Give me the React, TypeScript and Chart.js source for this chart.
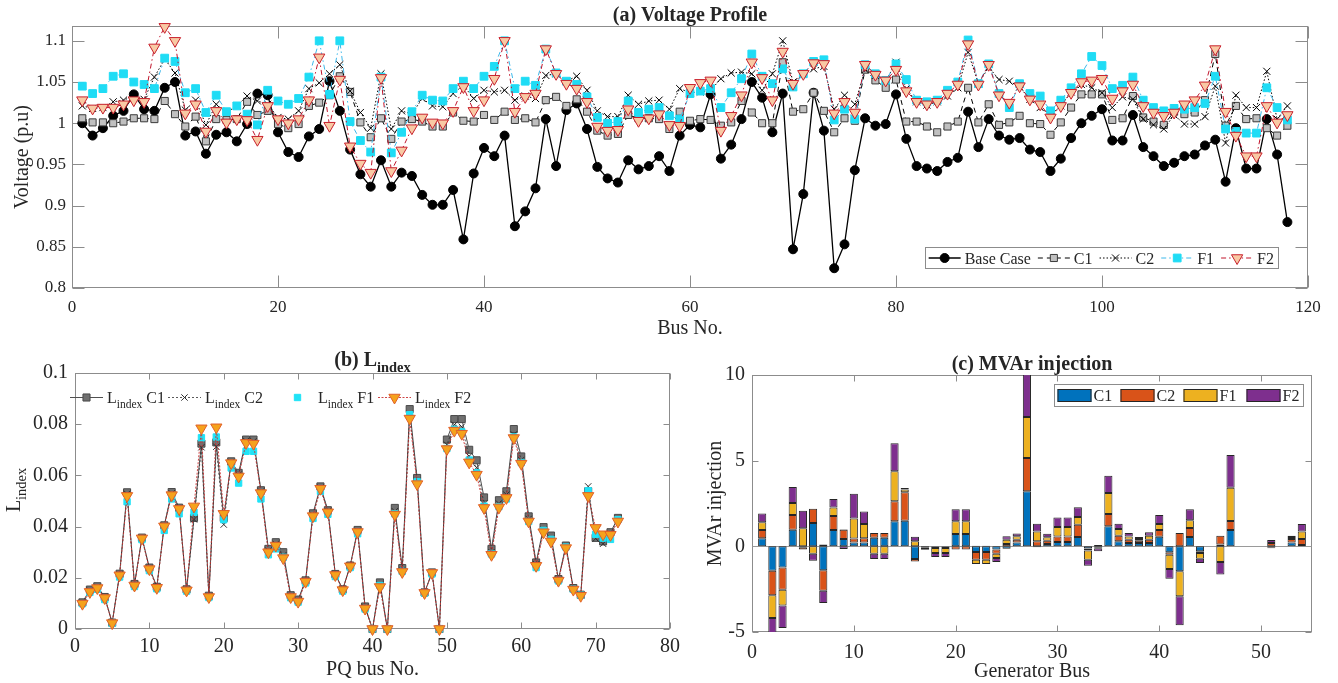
import React, { useEffect, useRef } from 'react';
import { Chart, registerables } from 'chart.js';

Chart.register(...registerables);

// ---------------- (a) Voltage profile ----------------
const busNumbers: number[] = Array.from({ length: 118 }, (_, i) => i + 1);

const voltageBase = [
  1.000, 0.985, 0.994, 1.009, 1.015, 1.035, 1.017, 1.015, 1.043, 1.050,
  0.985, 0.990, 0.963, 0.986, 0.989, 0.978, 0.999, 1.036, 1.034, 0.989,
  0.965, 0.959, 0.984, 0.993, 1.051, 1.015, 0.968, 0.938, 0.923, 0.955,
  0.923, 0.940, 0.936, 0.913, 0.901, 0.901, 0.919, 0.859, 0.939, 0.970,
  0.960, 0.985, 0.875, 0.893, 0.921, 1.005, 0.948, 1.016, 1.024, 0.993,
  0.947, 0.933, 0.928, 0.955, 0.944, 0.948, 0.960, 0.942, 0.985, 0.998,
  0.995, 1.035, 0.957, 0.974, 1.005, 1.050, 1.031, 0.989, 1.036, 0.847,
  0.914, 1.037, 0.991, 0.824, 0.853, 0.943, 1.006, 0.997, 0.999, 1.035,
  0.981, 0.948, 0.945, 0.942, 0.953, 0.958, 1.014, 0.971, 1.005, 0.985,
  0.980, 0.982, 0.968, 0.965, 0.942, 0.957, 0.982, 1.000, 1.009, 1.017,
  0.979, 0.979, 1.010, 0.971, 0.960, 0.948, 0.952, 0.960, 0.962, 0.973,
  0.980, 0.929, 0.994, 0.945, 0.945, 1.005, 0.962, 0.880,
];

const voltageC1 = [
  1.006, 1.001, 1.001, 1.000, 1.002, 1.006, 1.006, 1.005, 1.027, 1.011,
  0.996, 1.008, 0.978, 1.005, 1.004, 1.005, 1.026, 1.010, 1.015, 0.999,
  0.994, 0.999, 1.021, 1.025, 1.034, 1.057, 1.038, 1.001, 0.983, 1.006,
  0.981, 1.002, 1.005, 1.002, 0.996, 0.996, 1.013, 1.003, 1.002, 1.010,
  1.004, 1.014, 1.004, 1.006, 1.001, 1.028, 1.032, 1.021, 1.029, 1.014,
  0.991, 0.985, 0.987, 1.010, 1.006, 1.006, 1.005, 0.993, 1.014, 1.003,
  1.005, 1.004, 0.997, 1.001, 1.027, 1.013, 1.000, 1.000, 1.074, 1.014,
  1.017, 1.037, 1.015, 0.989, 1.006, 1.003, 1.065, 1.052, 1.043, 1.053,
  1.002, 1.002, 0.996, 0.989, 0.996, 1.002, 1.043, 1.001, 1.023, 0.998,
  1.001, 1.009, 1.000, 0.999, 0.986, 1.001, 1.019, 1.035, 1.035, 1.035,
  1.004, 1.006, 1.033, 1.007, 1.002, 0.998, 1.014, 1.011, 1.013, 1.028,
  1.084, 0.997, 1.021, 1.005, 1.006, 0.994, 0.985, 0.997,
];

const voltageC2 = [
  1.021, 1.018, 1.019, 1.026, 1.028, 1.033, 1.029, 1.056, 1.078, 1.061,
  1.016, 1.028, 0.998, 1.023, 1.013, 1.021, 1.033, 1.027, 1.023, 1.007,
  1.005, 1.015, 1.042, 1.049, 1.060, 1.071, 1.039, 1.013, 0.994, 1.060,
  0.993, 1.015, 1.011, 1.030, 1.021, 1.020, 1.036, 1.046, 1.030, 1.040,
  1.038, 1.040, 1.028, 1.033, 1.030, 1.058, 1.060, 1.051, 1.057, 1.040,
  1.015, 1.008, 1.008, 1.034, 1.023, 1.027, 1.028, 1.017, 1.042, 1.037,
  1.038, 1.040, 1.054, 1.061, 1.062, 1.060, 1.040, 1.060, 1.100, 1.050,
  1.060, 1.066, 1.069, 1.017, 1.034, 1.023, 1.065, 1.058, 1.051, 1.074,
  1.042, 1.026, 1.022, 1.026, 1.033, 1.043, 1.086, 1.048, 1.068, 1.053,
  1.051, 1.044, 1.029, 1.019, 1.010, 1.021, 1.038, 1.047, 1.043, 1.037,
  1.019, 1.032, 1.029, 1.005, 0.998, 0.993, 1.010, 0.999, 0.999, 1.008,
  1.045, 0.976, 1.034, 1.019, 1.019, 1.063, 1.005, 1.021,
];

const voltageF1 = [
  1.045, 1.036, 1.042, 1.057, 1.060, 1.050, 1.047, 1.042, 1.079, 1.075,
  1.037, 1.042, 1.013, 1.034, 1.014, 1.021, 1.011, 0.998, 1.040, 1.027,
  1.023, 1.030, 1.056, 1.100, 1.035, 1.100, 1.002, 0.979, 0.965, 1.056,
  0.964, 0.989, 1.014, 1.034, 1.028, 1.027, 1.042, 1.051, 1.042, 1.057,
  1.069, 1.100, 1.042, 1.051, 1.046, 1.090, 1.061, 1.051, 1.047, 1.032,
  1.007, 1.000, 1.002, 1.027, 1.013, 1.017, 1.019, 1.009, 1.005, 1.036,
  1.039, 1.042, 1.019, 1.037, 1.054, 1.084, 1.057, 1.048, 1.066, 1.044,
  1.060, 1.075, 1.077, 1.004, 1.017, 1.005, 1.071, 1.060, 1.052, 1.072,
  1.053, 1.028, 1.026, 1.028, 1.040, 1.050, 1.101, 1.048, 1.072, 1.036,
  1.019, 1.048, 1.036, 1.033, 1.015, 1.028, 1.043, 1.060, 1.081, 1.070,
  1.042, 1.046, 1.056, 1.028, 1.019, 1.015, 1.018, 1.017, 1.019, 1.024,
  1.057, 0.993, 0.990, 0.988, 0.988, 1.043, 1.019, 1.004,
];

const voltageF2 = [
  1.028, 1.018, 1.019, 1.019, 1.023, 1.028, 1.026, 1.092, 1.117, 1.100,
  1.012, 1.023, 0.990, 1.015, 1.001, 1.005, 1.004, 0.980, 1.021, 1.005,
  1.000, 1.005, 1.028, 1.080, 0.997, 1.053, 0.972, 0.951, 0.940, 1.055,
  0.942, 0.967, 0.994, 1.007, 1.001, 1.000, 1.015, 1.044, 1.015, 1.028,
  1.054, 1.100, 1.014, 1.032, 1.036, 1.090, 1.060, 1.048, 1.042, 1.026,
  0.996, 0.991, 0.992, 1.017, 1.003, 1.006, 1.011, 0.998, 0.997, 1.043,
  1.049, 1.052, 0.991, 1.009, 1.034, 1.074, 1.055, 1.028, 1.087, 1.048,
  1.060, 1.073, 1.072, 1.012, 1.026, 1.013, 1.071, 1.059, 1.052, 1.065,
  1.039, 1.026, 1.023, 1.026, 1.036, 1.047, 1.096, 1.047, 1.071, 1.034,
  1.025, 1.045, 1.029, 1.023, 1.007, 1.021, 1.037, 1.050, 1.052, 1.054,
  1.030, 1.039, 1.047, 1.021, 1.013, 1.009, 1.013, 1.023, 1.028, 1.046,
  1.090, 1.014, 0.985, 0.960, 0.960, 1.021, 1.001, 1.010,
];

// ---------------- (b) L-index of the PQ buses ----------------
const pqBusNumbers: number[] = Array.from({ length: 73 }, (_, i) => i + 1);

const lIndexC1 = [
  0.0104, 0.0154, 0.0167, 0.0125, 0.0025, 0.0216, 0.0534, 0.0176, 0.0357, 0.0240,
  0.0165, 0.0405, 0.0535, 0.0474, 0.0155, 0.0434, 0.0724, 0.0130, 0.0729, 0.0434,
  0.0655, 0.0610, 0.0740, 0.0740, 0.0542, 0.0313, 0.0339, 0.0300, 0.0132, 0.0115,
  0.0190, 0.0452, 0.0557, 0.0464, 0.0215, 0.0155, 0.0248, 0.0387, 0.0088, 0.0000,
  0.0182, 0.0000, 0.0473, 0.0238, 0.0859, 0.0590, 0.0143, 0.0221, 0.0000, 0.0740,
  0.0820, 0.0820, 0.0700, 0.0659, 0.0514, 0.0313, 0.0503, 0.0538, 0.0781, 0.0674,
  0.0440, 0.0260, 0.0398, 0.0365, 0.0195, 0.0326, 0.0160, 0.0134, 0.0538, 0.0356,
  0.0342, 0.0378, 0.0434,
];

const lIndexC2 = [
  0.0102, 0.0150, 0.0164, 0.0123, 0.0024, 0.0213, 0.0528, 0.0173, 0.0355, 0.0237,
  0.0163, 0.0403, 0.0530, 0.0471, 0.0153, 0.0428, 0.0710, 0.0128, 0.0712, 0.0408,
  0.0652, 0.0603, 0.0735, 0.0733, 0.0537, 0.0306, 0.0332, 0.0288, 0.0128, 0.0111,
  0.0187, 0.0446, 0.0552, 0.0460, 0.0213, 0.0154, 0.0246, 0.0383, 0.0084, 0.0000,
  0.0173, 0.0000, 0.0460, 0.0230, 0.0840, 0.0578, 0.0142, 0.0220, 0.0000, 0.0720,
  0.0798, 0.0790, 0.0675, 0.0630, 0.0490, 0.0300, 0.0490, 0.0525, 0.0760, 0.0660,
  0.0430, 0.0253, 0.0388, 0.0353, 0.0192, 0.0321, 0.0157, 0.0132, 0.0557, 0.0353,
  0.0333, 0.0372, 0.0430,
];

const lIndexF1 = [
  0.0099, 0.0143, 0.0155, 0.0115, 0.0022, 0.0203, 0.0497, 0.0166, 0.0349, 0.0228,
  0.0157, 0.0385, 0.0508, 0.0450, 0.0148, 0.0456, 0.0747, 0.0123, 0.0750, 0.0427,
  0.0629, 0.0570, 0.0694, 0.0694, 0.0508, 0.0290, 0.0313, 0.0280, 0.0122, 0.0105,
  0.0180, 0.0432, 0.0538, 0.0448, 0.0205, 0.0148, 0.0240, 0.0372, 0.0078, 0.0000,
  0.0170, 0.0000, 0.0450, 0.0225, 0.0837, 0.0575, 0.0140, 0.0215, 0.0000, 0.0705,
  0.0780, 0.0770, 0.0660, 0.0610, 0.0480, 0.0293, 0.0478, 0.0508, 0.0750, 0.0650,
  0.0420, 0.0240, 0.0385, 0.0350, 0.0188, 0.0320, 0.0155, 0.0132, 0.0540, 0.0370,
  0.0355, 0.0350, 0.0427,
];

const lIndexF2 = [
  0.0099, 0.0145, 0.0160, 0.0121, 0.0023, 0.0210, 0.0520, 0.0170, 0.0354, 0.0234,
  0.0161, 0.0401, 0.0523, 0.0469, 0.0151, 0.0479, 0.0784, 0.0125, 0.0788, 0.0450,
  0.0648, 0.0596, 0.0727, 0.0724, 0.0531, 0.0300, 0.0326, 0.0277, 0.0125, 0.0107,
  0.0185, 0.0441, 0.0548, 0.0456, 0.0211, 0.0152, 0.0245, 0.0379, 0.0080, 0.0000,
  0.0164, 0.0000, 0.0447, 0.0223, 0.0822, 0.0566, 0.0141, 0.0219, 0.0000, 0.0703,
  0.0775, 0.0763, 0.0651, 0.0603, 0.0473, 0.0290, 0.0475, 0.0512, 0.0746, 0.0646,
  0.0420, 0.0247, 0.0378, 0.0342, 0.0189, 0.0316, 0.0154, 0.0130, 0.0520, 0.0395,
  0.0370, 0.0368, 0.0420,
];

// ---------------- (c) MVAr injection per generator bus ----------------
const generatorBus: number[] = Array.from({ length: 54 }, (_, i) => i + 1);

const mvarC1 = [
  0.47, -1.42, -1.23, 0.97, -0.06, 1.36, -1.40, 0.95, 0.43, 0.23,
  0.23, 0.50, 0.50, 1.46, 1.50, -0.74, -0.05, -0.03, -0.03, 0.72,
  0.72, -0.33, -0.33, -0.19, -0.14, 0.23, 3.21, -0.05, 0.14, 0.25,
  0.25, 0.54, -0.12, -0.06, 1.17, 0.29, 0.19, 0.19, 0.19, 0.56,
  -0.35, -1.46, 0.54, -0.29, 0, 0.10, 0.95, 0, 0, 0,
  -0.08, 0, 0.23, 0.08,
];
const mvarC2 = [
  0.48, -1.44, -1.30, 0.86, -0.12, 0.84, -1.19, 0.82, 0.54, 0.22,
  0.24, 0.28, 0.28, 1.17, 1.65, -0.15, -0.05, -0.06, -0.06, -0.19,
  -0.19, -0.45, -0.45, -0.24, 0.14, 0.16, 1.95, 0.29, 0.19, 0.33,
  0.33, 0.72, -0.13, -0.05, 0.72, 0.33, 0.20, 0.14, 0.20, 0.39,
  -0.14, 0.78, 0.53, -0.10, 0, 0.52, 0.53, 0, 0, 0,
  0.20, 0, 0.20, 0.35,
];
const mvarF1 = [
  0.45, -1.32, -0.93, 0.70, 1.05, -0.43, 0.10, 0.49, 0.02, 1.18,
  0.83, -0.43, -0.43, 1.75, 0.16, 0.29, -0.05, -0.30, -0.30, 0.74,
  0.74, -0.25, -0.25, -0.25, 0.25, 0.20, 2.39, 0.58, 0.20, 0.55,
  0.55, 0.45, -0.53, 0.08, 1.22, 0.39, 0.19, 0.10, 0.23, 0.35,
  -0.83, -1.46, 0.45, -0.33, 0, -0.91, 1.94, 0, 0, 0,
  -0.03, 0, 0.11, 0.44,
];
const mvarF2 = [
  0.51, -0.90, -1.31, 0.93, 1.03, -0.41, -0.72, 0.50, -0.15, 1.44,
  0.74, -0.31, -0.31, 1.63, 0.09, 0.27, -0.05, -0.23, -0.23, 0.70,
  0.70, 0.03, 0.03, -0.23, 0.20, 0.16, 2.50, 0.45, 0.21, 0.56,
  0.56, 0.57, -0.35, -0.18, 1.01, 0.31, 0.20, 0.12, 0.20, 0.53,
  -0.57, -1.69, 0.64, -0.25, 0, -0.74, 1.91, 0, 0, 0,
  0.17, 0, 0.08, 0.43,
];

// ---------------- styling ----------------
const SERIF = '"Liberation Serif", "Times New Roman", Times, serif';
const INK = '#262626';
const FRAME = '#8c8c8c';
const SUB_SCALE = 0.72;
const SUB_DROP = 0.3;

type MarkerKind = 'circle' | 'rect' | 'crossRot' | 'triangleDown';
interface SeriesStyle {
  color: string;
  width: number;
  dash: number[];
  showLine: boolean;
  marker: MarkerKind;
  radius: number;
  fill: string;
  edge: string;
  edgeWidth: number;
}
type Run = { t: string; sub?: boolean };

const voltageStyles: SeriesStyle[] = [
  { color: '#000000', width: 1.3, dash: [], showLine: true, marker: 'circle', radius: 4.5, fill: '#000000', edge: '#000000', edgeWidth: 1 },
  { color: '#000000', width: 1, dash: [5, 4], showLine: true, marker: 'rect', radius: 5, fill: '#c0c0c0', edge: '#3a3a3a', edgeWidth: 1 },
  { color: '#000000', width: 1, dash: [1.5, 2], showLine: true, marker: 'crossRot', radius: 5, fill: '#000000', edge: '#000000', edgeWidth: 1 },
  { color: '#3db8ea', width: 1, dash: [5, 3, 1.5, 3], showLine: true, marker: 'rect', radius: 5.5, fill: '#1fdcf5', edge: '#1fdcf5', edgeWidth: 1 },
  { color: '#c0142b', width: 1, dash: [5, 3, 1.5, 3], showLine: true, marker: 'triangleDown', radius: 6.5, fill: '#f8c9a4', edge: '#c8202c', edgeWidth: 1 },
];
const voltageNames = ['Base Case', 'C1', 'C2', 'F1', 'F2'];

const lIndexStyles: SeriesStyle[] = [
  { color: '#505050', width: 1, dash: [], showLine: true, marker: 'rect', radius: 5, fill: '#707070', edge: '#4a4a4a', edgeWidth: 1 },
  { color: '#303030', width: 0.8, dash: [2, 2], showLine: true, marker: 'crossRot', radius: 4.5, fill: '#303030', edge: '#303030', edgeWidth: 1 },
  { color: '#1fe3f7', width: 1, dash: [], showLine: false, marker: 'rect', radius: 4.5, fill: '#1fe3f7', edge: '#1fe3f7', edgeWidth: 1 },
  { color: '#c83030', width: 0.9, dash: [2, 1.5], showLine: true, marker: 'triangleDown', radius: 6.5, fill: '#f5a21c', edge: '#e0602a', edgeWidth: 1 },
];
const lIndexNames = ['C1', 'C2', 'F1', 'F2'];

const mvarColors = ['#0072BD', '#D95319', '#EDB120', '#7E2F8E'];
const mvarNames = ['C1', 'C2', 'F1', 'F2'];

// ---------------- drawing helpers ----------------
function fontOf(size: number, bold: boolean) {
  return `${bold ? 'bold ' : ''}${size}px ${SERIF}`;
}

function drawRuns(ctx: CanvasRenderingContext2D, runs: Run[], x: number, y: number, size: number, bold: boolean, align: 'left' | 'center') {
  const subSize = size * SUB_SCALE;
  let w = 0;
  for (const r of runs) {
    ctx.font = fontOf(r.sub ? subSize : size, bold);
    w += ctx.measureText(r.t).width;
  }
  let cx = align === 'center' ? x - w / 2 : x;
  ctx.fillStyle = INK;
  ctx.textAlign = 'left';
  ctx.textBaseline = 'alphabetic';
  for (const r of runs) {
    ctx.font = fontOf(r.sub ? subSize : size, bold);
    ctx.fillText(r.t, cx, y + (r.sub ? size * SUB_DROP : 0));
    cx += ctx.measureText(r.t).width;
  }
  return w;
}

function drawRunsVertical(ctx: CanvasRenderingContext2D, runs: Run[], baselineX: number, centerY: number, size: number) {
  ctx.save();
  ctx.translate(baselineX, centerY);
  ctx.rotate(-Math.PI / 2);
  drawRuns(ctx, runs, 0, 0, size, false, 'center');
  ctx.restore();
}

function drawMarker(ctx: CanvasRenderingContext2D, st: SeriesStyle, x: number, y: number) {
  const r = st.radius;
  ctx.save();
  ctx.setLineDash([]);
  ctx.fillStyle = st.fill;
  ctx.strokeStyle = st.edge;
  ctx.lineWidth = st.edgeWidth;
  ctx.beginPath();
  if (st.marker === 'circle') {
    ctx.arc(x, y, r, 0, Math.PI * 2);
    ctx.fill();
    ctx.stroke();
  } else if (st.marker === 'rect') {
    const s = r * Math.SQRT1_2;
    ctx.rect(x - s, y - s, 2 * s, 2 * s);
    ctx.fill();
    ctx.stroke();
  } else if (st.marker === 'crossRot') {
    const d = r * Math.SQRT1_2;
    ctx.moveTo(x - d, y - d);
    ctx.lineTo(x + d, y + d);
    ctx.moveTo(x + d, y - d);
    ctx.lineTo(x - d, y + d);
    ctx.stroke();
  } else {
    ctx.moveTo(x, y + r);
    ctx.lineTo(x - r * 0.866, y - r * 0.5);
    ctx.lineTo(x + r * 0.866, y - r * 0.5);
    ctx.closePath();
    ctx.fill();
    ctx.stroke();
  }
  ctx.restore();
}

function drawSample(ctx: CanvasRenderingContext2D, st: SeriesStyle, x: number, y: number, len: number) {
  if (st.showLine) {
    ctx.save();
    ctx.strokeStyle = st.color;
    ctx.lineWidth = st.width;
    ctx.setLineDash(st.dash);
    ctx.beginPath();
    ctx.moveTo(x, y);
    ctx.lineTo(x + len, y);
    ctx.stroke();
    ctx.restore();
  }
  drawMarker(ctx, st, x + len / 2, y);
}

// Box around the axes with inward tick marks on all four sides.
function framePlugin(tickLen: number, zeroLine = false) {
  return {
    id: 'frame',
    beforeDatasetsDraw(chart: any) {
      const { ctx, chartArea: a, scales } = chart;
      const l = Math.round(a.left) + 0.5;
      const r = Math.round(a.right) - 0.5;
      const t = Math.round(a.top) + 0.5;
      const b = Math.round(a.bottom) - 0.5;
      ctx.save();
      ctx.strokeStyle = FRAME;
      ctx.lineWidth = 1;
      ctx.beginPath();
      for (const tk of scales.x.ticks) {
        const p = Math.round(scales.x.getPixelForValue(tk.value)) + 0.5;
        ctx.moveTo(p, b);
        ctx.lineTo(p, b - tickLen);
        ctx.moveTo(p, t);
        ctx.lineTo(p, t + tickLen);
      }
      for (const tk of scales.y.ticks) {
        const p = Math.round(scales.y.getPixelForValue(tk.value)) + 0.5;
        ctx.moveTo(l, p);
        ctx.lineTo(l + tickLen, p);
        ctx.moveTo(r, p);
        ctx.lineTo(r - tickLen, p);
      }
      ctx.stroke();
      ctx.strokeRect(l, t, r - l, b - t);
      if (zeroLine) {
        const z = Math.round(scales.y.getPixelForValue(0)) + 0.5;
        ctx.strokeStyle = '#9a9a9a';
        ctx.beginPath();
        ctx.moveTo(l, z);
        ctx.lineTo(r, z);
        ctx.stroke();
      }
      ctx.restore();
    },
  };
}

interface AxisText {
  title: Run[];
  titleY: number;
  xLabel: Run[];
  xLabelY: number;
  yLabel: Run[];
  yLabelX: number;
  yLabelCenter?: number;
  size: number;
}

function textPlugin(spec: AxisText) {
  return {
    id: 'axisText',
    afterDraw(chart: any) {
      const { ctx, chartArea: a } = chart;
      const cx = (a.left + a.right) / 2;
      const cy = spec.yLabelCenter ?? (a.top + a.bottom) / 2;
      ctx.save();
      drawRuns(ctx, spec.title, cx, spec.titleY, spec.size, true, 'center');
      drawRuns(ctx, spec.xLabel, cx, spec.xLabelY, spec.size, false, 'center');
      drawRunsVertical(ctx, spec.yLabel, spec.yLabelX, cy, spec.size);
      ctx.restore();
    },
  };
}

function fmt(v: number | string) {
  return String(Math.round(Number(v) * 1000) / 1000);
}

function linearAxis(min: number, max: number, step: number, fontSize: number, padding: number, fit: (s: any) => void) {
  return {
    type: 'linear' as const,
    min,
    max,
    bounds: 'data' as const,
    offset: false,
    grid: { display: false, drawTicks: false },
    border: { display: false },
    ticks: {
      stepSize: step,
      includeBounds: false,
      autoSkip: false,
      maxRotation: 0,
      padding,
      color: INK,
      font: { family: SERIF, size: fontSize },
      callback: (v: number | string) => fmt(v),
    },
    // keep only whole multiples of the step (no extra tick at an uneven axis end)
    afterBuildTicks: (s: any) => {
      s.ticks = s.ticks.filter((t: any) => {
        const k = (t.value - min) / step;
        return Math.abs(k - Math.round(k)) < 1e-6;
      });
    },
    afterFit: fit,
  };
}

function lineDataset(label: string, data: number[], st: SeriesStyle, order: number) {
  return {
    label,
    data,
    order,
    showLine: st.showLine,
    borderColor: st.color,
    borderWidth: st.width,
    borderDash: st.dash,
    fill: false,
    tension: 0,
    clip: false as const,
    pointStyle: st.marker === 'triangleDown' ? 'triangle' : st.marker,
    pointRotation: st.marker === 'triangleDown' ? 180 : 0,
    pointRadius: st.radius,
    pointHoverRadius: st.radius,
    pointBackgroundColor: st.fill,
    pointBorderColor: st.edge,
    pointBorderWidth: st.edgeWidth,
  };
}

const baseOptions = {
  responsive: false,
  animation: false as const,
  events: [] as any[],
};

// ---------------- chart configs ----------------
function voltageConfig(): any {
  const series = [voltageBase, voltageC1, voltageC2, voltageF1, voltageF2];
  const legend = {
    id: 'voltageLegend',
    afterDraw(chart: any) {
      const { ctx, chartArea: a } = chart;
      const sample = 32;
      const gap = 7;
      ctx.save();
      ctx.font = fontOf(16, false);
      const widths = voltageNames.map((n) => ctx.measureText(n).width);
      const inner = widths.reduce((s, w) => s + sample + 4 + w + gap, 0) - gap;
      const right = a.right - 30;
      const left = right - inner - 8;
      const top = a.bottom - 41;
      const bottom = a.bottom - 20;
      ctx.fillStyle = '#ffffff';
      ctx.fillRect(left, top, right - left, bottom - top);
      ctx.strokeStyle = FRAME;
      ctx.lineWidth = 1;
      ctx.strokeRect(Math.round(left) + 0.5, top + 0.5, Math.round(right - left), bottom - top);
      const y = (top + bottom) / 2 + 0.5;
      let x = left + 4;
      voltageStyles.forEach((st, i) => {
        drawSample(ctx, st, x, y, sample);
        ctx.fillStyle = INK;
        ctx.font = fontOf(16, false);
        ctx.textAlign = 'left';
        ctx.textBaseline = 'alphabetic';
        ctx.fillText(voltageNames[i], x + sample + 4, y + 5.5);
        x += sample + 4 + widths[i] + gap;
      });
      ctx.restore();
    },
  };
  return {
    type: 'line',
    data: {
      labels: busNumbers,
      datasets: series.map((d, i) => lineDataset(voltageNames[i], d, voltageStyles[i], 5 - i)),
    },
    options: {
      ...baseOptions,
      layout: { padding: { top: 26, right: 30, bottom: 0, left: 0 } },
      plugins: { legend: { display: false }, tooltip: { enabled: false }, title: { display: false } },
      scales: {
        x: linearAxis(0, 120, 20, 17, 9, (s: any) => { s.height = 52; }),
        y: linearAxis(0.8, 1.118, 0.05, 17, 6, (s: any) => { s.width = 72; }),
      },
    },
    plugins: [
      framePlugin(12),
      legend,
      textPlugin({
        title: [{ t: '(a) Voltage Profile' }],
        titleY: 21,
        xLabel: [{ t: 'Bus No.' }],
        xLabelY: 334,
        yLabel: [{ t: 'Voltage (p.u)' }],
        yLabelX: 28,
        size: 20,
      }),
    ],
  };
}

function lIndexConfig(): any {
  const series = [lIndexC1, lIndexC2, lIndexF1, lIndexF2];
  const legend = {
    id: 'lIndexLegend',
    afterDraw(chart: any) {
      const { ctx } = chart;
      const starts = [70, 168, 281, 378];
      const y = 57.5;
      ctx.save();
      lIndexStyles.forEach((st, i) => {
        drawSample(ctx, st, starts[i], y, 33);
        drawRuns(ctx, [{ t: 'L' }, { t: 'index', sub: true }, { t: ' ' + lIndexNames[i] }], starts[i] + 37, y + 5.5, 16, false, 'left');
      });
      ctx.restore();
    },
  };
  return {
    type: 'line',
    data: {
      labels: pqBusNumbers,
      datasets: series.map((d, i) => lineDataset('L index ' + lIndexNames[i], d, lIndexStyles[i], 4 - i)),
    },
    options: {
      ...baseOptions,
      layout: { padding: { top: 33, right: 20, bottom: 0, left: 0 } },
      plugins: { legend: { display: false }, tooltip: { enabled: false }, title: { display: false } },
      scales: {
        x: linearAxis(0, 80, 10, 20, 6, (s: any) => { s.height = 54; }),
        y: linearAxis(0, 0.1, 0.02, 20, 7, (s: any) => { s.width = 75; }),
      },
    },
    plugins: [
      framePlugin(6),
      legend,
      textPlugin({
        title: [{ t: '(b) L' }, { t: 'index', sub: true }],
        titleY: 26,
        xLabel: [{ t: 'PQ bus No.' }],
        xLabelY: 335,
        yLabel: [{ t: 'L' }, { t: 'index', sub: true }],
        yLabelX: 20,
        yLabelCenter: 150,
        size: 20,
      }),
    ],
  };
}

function mvarConfig(): any {
  const series = [mvarC1, mvarC2, mvarF1, mvarF2];
  const legend = {
    id: 'mvarLegend',
    afterDraw(chart: any) {
      const { ctx } = chart;
      const left = 364;
      const top = 44;
      const width = 249;
      const height = 22;
      ctx.save();
      ctx.fillStyle = '#ffffff';
      ctx.fillRect(left, top, width, height);
      ctx.strokeStyle = FRAME;
      ctx.lineWidth = 1;
      ctx.strokeRect(left + 0.5, top + 0.5, width, height);
      mvarColors.forEach((c, i) => {
        const x = left + 3.5 + i * 63;
        ctx.fillStyle = c;
        ctx.fillRect(x, top + 5, 34, 13);
        ctx.strokeStyle = '#262626';
        ctx.strokeRect(x + 0.5, top + 5.5, 33, 12);
        drawRuns(ctx, [{ t: mvarNames[i] }], x + 36, top + 17, 16, false, 'left');
      });
      ctx.restore();
    },
  };
  return {
    type: 'bar',
    data: {
      labels: generatorBus,
      datasets: series.map((d, i) => ({
        label: mvarNames[i],
        data: d,
        backgroundColor: mvarColors[i],
        borderColor: '#262626',
        borderWidth: (c: any) => (c.raw === 0 ? 0 : 1),
        borderSkipped: false,
        categoryPercentage: 1,
        barPercentage: 0.8,
      })),
    },
    options: {
      ...baseOptions,
      layout: { padding: { top: 35, right: 26, bottom: 0, left: 0 } },
      plugins: { legend: { display: false }, tooltip: { enabled: false }, title: { display: false } },
      scales: {
        x: { ...linearAxis(0, 55, 10, 20, 9, (s: any) => { s.height = 51; }), stacked: true },
        y: { ...linearAxis(-5, 10, 5, 20, 7, (s: any) => { s.width = 62; }), stacked: true },
      },
    },
    plugins: [
      framePlugin(6, true),
      legend,
      textPlugin({
        title: [{ t: '(c) MVAr injection' }],
        titleY: 30,
        xLabel: [{ t: 'Generator Bus' }],
        xLabelY: 337,
        yLabel: [{ t: 'MVAr injection' }],
        yLabelX: 31,
        size: 20,
      }),
    ],
  };
}

export default function App() {
  const refA = useRef<HTMLCanvasElement>(null);
  const refB = useRef<HTMLCanvasElement>(null);
  const refC = useRef<HTMLCanvasElement>(null);

  useEffect(() => {
    const charts = [
      new Chart(refA.current as HTMLCanvasElement, voltageConfig()),
      new Chart(refB.current as HTMLCanvasElement, lIndexConfig()),
      new Chart(refC.current as HTMLCanvasElement, mvarConfig()),
    ];
    return () => charts.forEach((c) => c.destroy());
  }, []);

  return (
    <div style={{ position: 'absolute', left: 0, top: 0, width: 1338, height: 683, background: '#ffffff', overflow: 'hidden' }}>
      <canvas ref={refA} width={1338} height={340} style={{ position: 'absolute', left: 0, top: 0 }} />
      <canvas ref={refB} width={690} height={343} style={{ position: 'absolute', left: 0, top: 340 }} />
      <canvas ref={refC} width={648} height={343} style={{ position: 'absolute', left: 690, top: 340 }} />
    </div>
  );
}
